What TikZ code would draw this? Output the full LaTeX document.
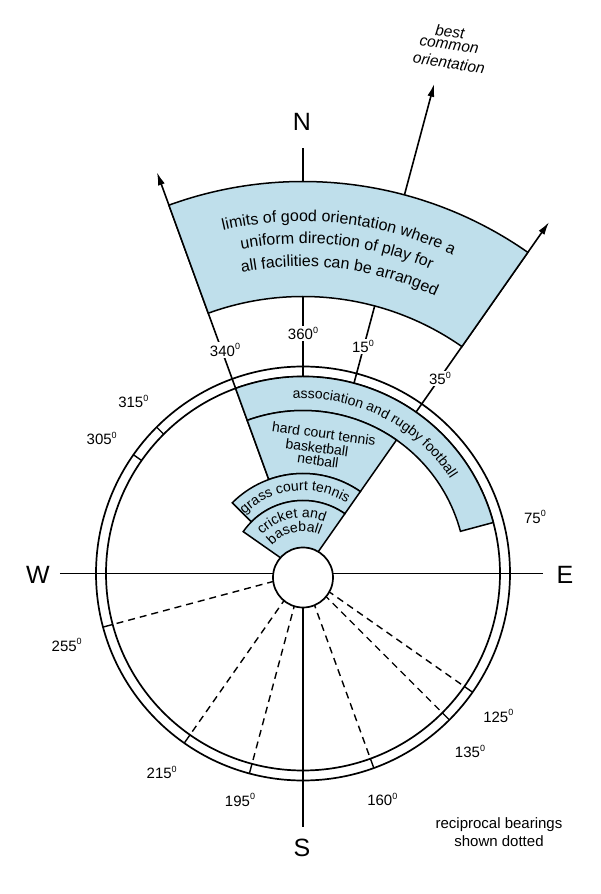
\documentclass[tikz,border=0pt]{standalone}
\usepackage{fontspec}
\setmainfont{Liberation Sans}
\usetikzlibrary{arrows.meta,decorations.text}
\definecolor{bandblue}{RGB}{191,223,235}
\newcommand\dgsup{\raisebox{0.8ex}{\fontsize{9}{9}\selectfont 0}}
\newcommand\bandfont{\fontsize{16}{19}\selectfont}
\newcommand\secfont{\fontsize{14}{16}\selectfont}
\begin{document}
\begin{tikzpicture}[
  ln/.style={line width=1.7pt},
  sector/.style={fill=bandblue, draw=black, line width=1.5pt},
  lbl/.style={font=\fontsize{15}{18}\selectfont, fill=white, inner sep=1.5pt},
  plain/.style={font=\fontsize{15}{18}\selectfont, inner sep=1pt},
  compass/.style={font=\fontsize{25}{30}\selectfont, inner sep=1pt},
  arr/.style={line width=1.6pt, -{Latex[length=13pt,width=7pt]}},
  dsh/.style={line width=1.4pt, dash pattern=on 7pt off 5pt},
  tickmark/.style={line width=1.4pt},
  sectxt/.style={font=\secfont, inner sep=0pt},
  bestfont/.style={font=\fontsize{15.5}{18}\selectfont\itshape, inner sep=0pt},
]
\useasboundingbox (-303pt,-320.5pt) rectangle (297pt,573.5pt);
\coordinate (O) at (0pt,0pt);
% compass axes
\coordinate (Ntop) at (0pt,425pt);
\coordinate (Sbot) at (0pt,-253pt);
\coordinate (Wend) at (-243pt,0pt);
\coordinate (Eend) at (240pt,0pt);
\draw[ln] (Ntop) -- (O);
\draw[ln] (O) -- (Sbot);
\draw[ln] (Wend) -- (O);
\draw[ln] (O) -- (Eend);
% bearing arrows
\coordinate (b340s) at (110:100pt);
\coordinate (b340e) at (110:427pt);
\coordinate (b15s) at (75:197pt);
\coordinate (b15e) at (75:507pt);
\coordinate (b35s) at (55:163pt);
\coordinate (b35e) at (55:429pt);
\draw[arr] (b340s) -- (b340e);
\draw[arr] (b15s) -- (b15e);
\draw[arr] (b35s) -- (b35e);
% rings
\draw[ln] (O) circle[radius=207pt];
\draw[ln] (O) circle[radius=197pt];
% sectors
\draw[sector] (110:197pt) arc[start angle=110, end angle=15, radius=197pt] -- (15:163pt) arc[start angle=15, end angle=110, radius=163pt] -- cycle;
\draw[sector] (110:163pt) arc[start angle=110, end angle=55, radius=163pt] -- (55:100pt) arc[start angle=55, end angle=110, radius=100pt] -- cycle;
\draw[sector] (135:100pt) arc[start angle=135, end angle=55, radius=100pt] -- (55:73pt) arc[start angle=55, end angle=135, radius=73pt] -- cycle;
\draw[sector] (145:73pt) arc[start angle=145, end angle=55, radius=73pt] -- (55:20pt) arc[start angle=55, end angle=145, radius=20pt] -- cycle;
% band
\draw[sector] (110:392pt) arc[start angle=110, end angle=55, radius=392pt] -- (55:277pt) arc[start angle=55, end angle=110, radius=277pt] -- cycle;
% band text
\path[decorate, decoration={text along path, text align=center, text={|\bandfont|limits of good orientation where a}}] (129:352pt) arc[start angle=129, end angle=39, radius=352pt];
\path[decorate, decoration={text along path, text align=center, text={|\bandfont|uniform direction of play for}}] (129:330pt) arc[start angle=129, end angle=39, radius=330pt];
\path[decorate, decoration={text along path, text align=center, text={|\bandfont|all facilities can be arranged}}] (128:307pt) arc[start angle=128, end angle=38, radius=307pt];
% sector text
\path[decorate, decoration={text along path, text align=center, text={|\secfont|association and rugby football}}] (123:175pt) arc[start angle=123, end angle=3, radius=175pt];
\node[sectxt, rotate=-8] (hc1) at (21pt,140pt) {hard court tennis};
\node[sectxt, rotate=-8] (hc2) at (14pt,126pt) {basketball};
\node[sectxt, rotate=-8] (hc3) at (15pt,113pt) {netball};
\path[decorate, decoration={text along path, text align=center, text={|\secfont|grass court tennis}}] (171.4:83pt) arc[start angle=171.4, end angle=21.4, radius=83pt];
\path[decorate, decoration={text along path, text align=center, text={|\secfont|cricket and}}] (182:56pt) arc[start angle=182, end angle=22, radius=56pt];
\path[decorate, decoration={text along path, text align=center, text={|\secfont|baseball}}] (182:42pt) arc[start angle=182, end angle=22, radius=42pt];
% ring ticks
\foreach \a in {145,135,195,235,255,290,315,325} {
  \draw[tickmark] (\a:197pt) -- (\a:207pt);
}
% reciprocal bearings
\foreach \a in {195,235,255,290,315,325} {
  \draw[dsh] (\a:30pt) -- (\a:197pt);
}
% centre circle
\draw[ln, fill=white] (0pt,-4pt) circle[radius=30pt];
% labels
\node[compass] (N) at (-1pt,452pt) {N};
\node[compass] (S) at (-1pt,-274pt) {S};
\node[compass] (W) at (-265pt,-1pt) {W};
\node[compass] (E) at (262pt,-1pt) {E};
\node[lbl] (l360) at (0pt,240pt) {360\dgsup};
\node[lbl] (l340) at (-78pt,223.5pt) {340\dgsup};
\node[lbl] (l15) at (60pt,227pt) {15\dgsup};
\node[lbl] (l35) at (137pt,195pt) {35\dgsup};
\node[plain] (l75) at (232pt,56.5pt) {75\dgsup};
\node[plain] (l315) at (-169.7pt,171.8pt) {315\dgsup};
\node[plain] (l305) at (-201.3pt,135.2pt) {305\dgsup};
\node[plain] (l255) at (-236.3pt,-71.5pt) {255\dgsup};
\node[plain] (l215) at (-141.3pt,-198.8pt) {215\dgsup};
\node[plain] (l195) at (-63pt,-226.5pt) {195\dgsup};
\node[plain] (l160) at (79.3pt,-225.8pt) {160\dgsup};
\node[plain] (l135) at (167pt,-178.2pt) {135\dgsup};
\node[plain] (l125) at (195.3pt,-142.5pt) {125\dgsup};
\node[plain, align=center] (recip) at (196pt,-258.5pt) {reciprocal bearings\\shown dotted};
\node[bestfont, rotate=-6] (best1) at (147pt,542pt) {best};
\node[bestfont, rotate=-8] (best2) at (146pt,528pt) {common};
\node[bestfont, rotate=-9] (best3) at (146pt,510.5pt) {orientation};
\end{tikzpicture}
\end{document}
